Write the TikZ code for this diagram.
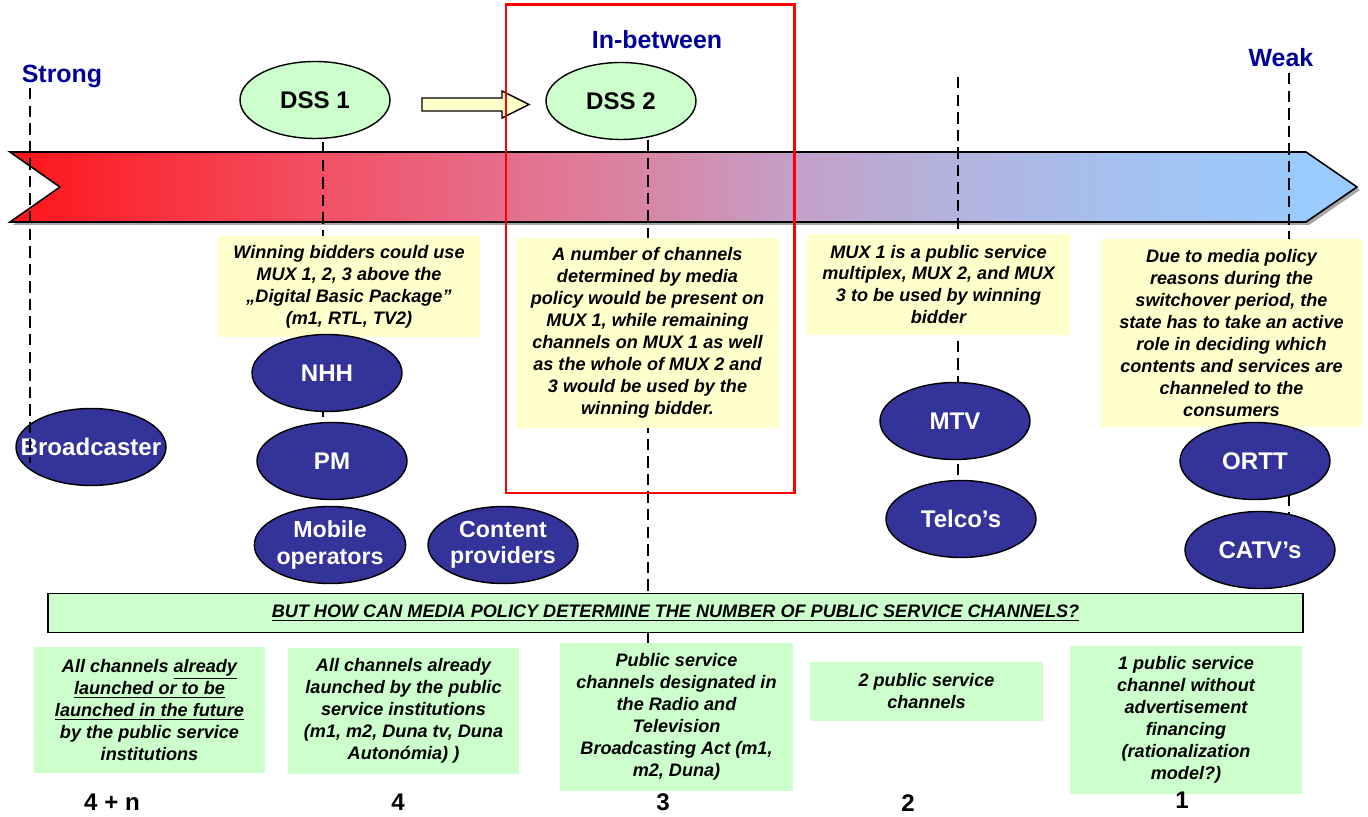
\documentclass[tikz,border=0pt]{standalone}
\usepackage{fontspec}
\setmainfont{Liberation Sans}
\usetikzlibrary{shapes.geometric,backgrounds}

\definecolor{darkblue}{RGB}{0,0,153}
\definecolor{ovalblue}{RGB}{51,51,153}
\definecolor{paleyellow}{RGB}{255,255,204}
\definecolor{palegreen}{RGB}{204,255,204}
\definecolor{barA}{RGB}{255,20,25}
\definecolor{barB}{RGB}{243,80,100}
\definecolor{barC}{RGB}{230,110,140}
\definecolor{barD}{RGB}{215,135,165}
\definecolor{barE}{RGB}{195,160,200}
\definecolor{barF}{RGB}{178,180,222}
\definecolor{barG}{RGB}{162,195,242}
\definecolor{barH}{RGB}{153,204,255}
\pgfdeclarehorizontalshading{barshade}{100bp}{color(0bp)=(barA); color(25bp)=(barA);
  color(36.5bp)=(barB); color(43.4bp)=(barC); color(48.8bp)=(barD); color(54.1bp)=(barE);
  color(60.3bp)=(barF); color(67.3bp)=(barG); color(75bp)=(barH); color(100bp)=(barH)}

\begin{document}
\begin{tikzpicture}[x=0.2mm,y=-0.2mm,
    actor/.style={ellipse,draw=black,line width=0.8pt,fill=ovalblue,text=white,
      minimum width=30mm,minimum height=15.4mm,inner sep=0pt,align=center,
      font=\fontsize{13.7}{15.4}\selectfont\bfseries},
    scheme/.style={ellipse,draw=black,line width=0.8pt,fill=palegreen,
      minimum width=30mm,minimum height=15.4mm,inner sep=0pt,
      font=\fontsize{13.7}{15.4}\selectfont\bfseries},
    note/.style={fill=paleyellow,align=center,inner sep=0pt,
      font=\fontsize{10.3}{12.5}\selectfont\bfseries\itshape},
    option/.style={fill=palegreen,align=center,inner sep=0pt,
      font=\fontsize{10.3}{12.5}\selectfont\bfseries\itshape},
    pole/.style={text=darkblue,anchor=base,font=\fontsize{14.2}{16}\selectfont\bfseries},
    count/.style={anchor=base,font=\fontsize{13.7}{16}\selectfont\bfseries},
    guide/.style={dash pattern=on 6.5pt off 3.5pt,line width=1.1pt}]
  \useasboundingbox (0,0) rectangle (1368,817);

  \node[pole,name=strong] at (62,83) {Strong};
  \node[pole,name=mid] at (657,49) {In-between};
  \node[pole,name=weak] at (1281,67) {Weak};

  \node[scheme,name=dss1] at (315,100) {DSS 1};
  \node[scheme,name=dss2] at (621,101) {DSS 2};
  \draw[fill=paleyellow,line width=0.8pt] (422,98) -- (502,98) -- (502,91) -- (529,104.5)
    -- (502,118) -- (502,111) -- (422,111) -- cycle;

  \node[note,name=bid,minimum width=52.4mm,minimum height=20.2mm] at (349,286.5)
    {Winning bidders could use\\MUX 1, 2, 3 above the\\„Digital Basic Package”\\(m1, RTL, TV2)};
  \node[note,name=mix,minimum width=52.6mm,minimum height=38mm] at (647.5,333)
    {A number of channels\\determined by media\\policy would be present on\\MUX 1, while remaining\\channels on MUX 1 as well\\as the whole of MUX 2 and\\3 would be used by the\\winning bidder.};
  \node[note,name=pubmux,minimum width=52.6mm,minimum height=20.2mm] at (938.5,284.5)
    {MUX 1 is a public service\\multiplex, MUX 2, and MUX\\3 to be used by winning\\bidder};
  \node[note,name=state,minimum width=52.2mm,minimum height=37.6mm] at (1231.5,333)
    {Due to media policy\\reasons during the\\switchover period, the\\state has to take an active\\role in deciding which\\contents and services are\\channeled to the\\consumers};

  \node[actor,name=bcast] at (91,447) {\makebox[0pt]{Broadcaster}};
  \node[actor,name=nhh] at (327,373) {NHH};
  \node[actor,name=pm] at (332,461) {PM};
  \node[actor,name=mobile,font=\fontsize{13.2}{15}\selectfont\bfseries] at (330,545) {Mobile\\operators};
  \node[actor,name=content,font=\fontsize{13.2}{15}\selectfont\bfseries] at (503,545) {Content\\providers};
  \node[actor,name=mtv] at (955,421) {MTV};
  \node[actor,name=telco] at (961,519) {Telco’s};
  \node[actor,name=ortt] at (1255,461) {ORTT};
  \node[actor,name=catv] at (1260,550) {CATV’s};

  \node[draw=black,line width=1pt,fill=palegreen,inner sep=0pt,minimum width=251mm,
    minimum height=7.8mm,font=\fontsize{10.3}{12.5}\selectfont\bfseries\itshape,name=question]
    at (675.5,613) {\underline{BUT HOW CAN MEDIA POLICY DETERMINE THE NUMBER OF PUBLIC SERVICE CHANNELS?}};

  \node[option,name=all,minimum width=46.2mm,minimum height=25.2mm] at (149.5,710)
    {All channels \underline{already}\\\underline{launched or to be}\\\underline{launched in the future}\\by the public service\\institutions};
  \node[option,name=launched,minimum width=46.2mm,minimum height=25.2mm] at (403.5,711)
    {All channels already\\launched by the public\\service institutions\\(m1, m2, Duna tv, Duna\\Autonómia) )};
  \node[option,name=act,minimum width=46.6mm,minimum height=29.6mm] at (676.5,717)
    {Public service\\channels designated in\\the Radio and\\Television\\Broadcasting Act (m1,\\m2, Duna)};
  \node[option,name=two,minimum width=46.6mm,minimum height=11.8mm] at (926.5,691.5)
    {2 public service\\channels};
  \node[option,name=one,minimum width=46.4mm,minimum height=29.6mm] at (1186,720)
    {1 public service\\channel without\\advertisement\\financing\\(rationalization\\model?)};

  \node[count,name=n4n] at (112,811) {4 + n};
  \node[count,name=n4] at (398,811) {4};
  \node[count,name=n3] at (663,811) {3};
  \node[count,name=n2] at (908,812) {2};
  \node[count,name=n1] at (1182,809) {1};

  \draw[red,line width=1.7pt] (506,5) rectangle (794,493);

  \coordinate (top2) at (323,142);
  \coordinate (top3) at (648,140);
  \coordinate (top4) at (958,77);
  \coordinate (top5) at (1289,73);
  \begin{scope}[on background layer]
    \fill[gray!70,shift={(3,3)}] (10,152) -- (1306,152) -- (1357,187) -- (1306,222)
      -- (10,222) -- (60,187) -- cycle;
    \draw[line width=0.9pt,shading=barshade]
      (10,152) -- (1306,152) -- (1357,187) -- (1306,222) -- (10,222) -- (60,187) -- cycle;
    \path[guide]
      (top2) edge (top2 |- pm.center)
      (top3) edge (top3 |- act.north)
      (top4) edge (top4 |- telco.center)
      (top5) edge (top5 |- catv.center);
  \end{scope}

  \coordinate (top1) at (30,88);
  \coordinate (end1) at (30,463);
  \path[guide] (top1) edge (end1);
\end{tikzpicture}
\end{document}
